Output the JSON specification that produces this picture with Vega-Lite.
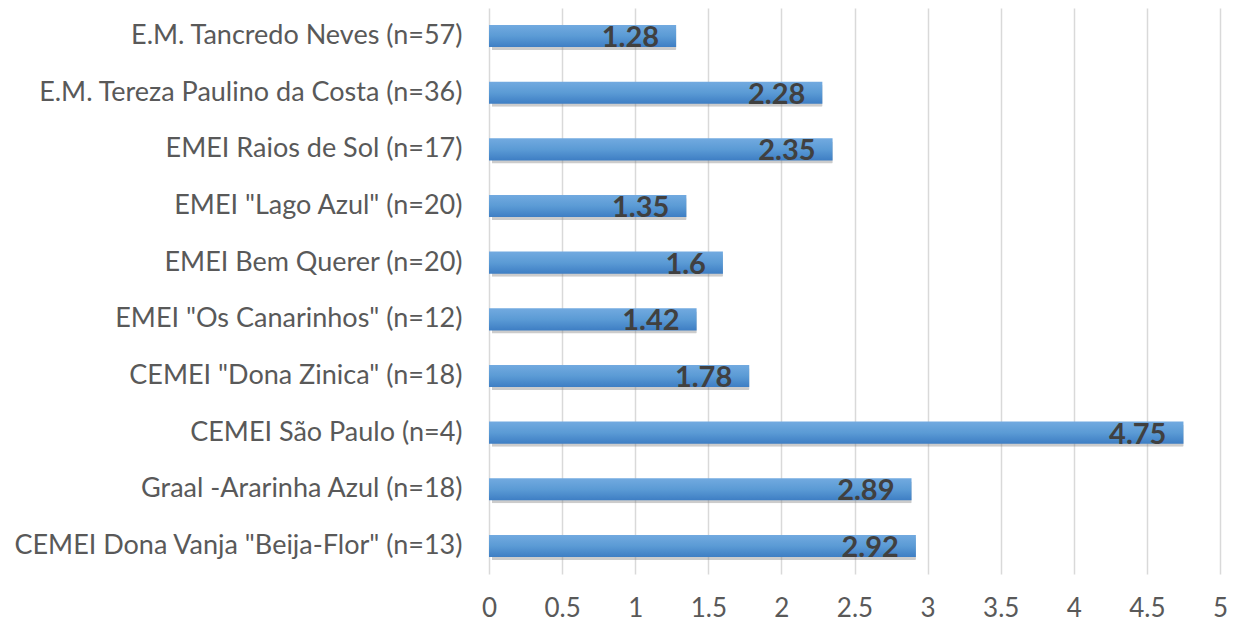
{
  "$schema": "https://vega.github.io/schema/vega-lite/v6.json",
  "width": 731,
  "height": 566,
  "autosize": "none",
  "padding": {"left": 489, "top": 8, "right": 19, "bottom": 50},
  "background": "white",
  "config": {"view": {"stroke": null}, "font": "Lato"},
  "data": {"values": [
    {"school": "E.M. Tancredo Neves (n=57)", "value": 1.28},
    {"school": "E.M. Tereza Paulino da Costa (n=36)", "value": 2.28},
    {"school": "EMEI Raios de Sol (n=17)", "value": 2.35},
    {"school": "EMEI  \"Lago Azul\" (n=20)", "value": 1.35},
    {"school": "EMEI Bem Querer (n=20)", "value": 1.6},
    {"school": "EMEI  \"Os Canarinhos\" (n=12)", "value": 1.42},
    {"school": "CEMEI  \"Dona Zinica\" (n=18)", "value": 1.78},
    {"school": "CEMEI São Paulo (n=4)", "value": 4.75},
    {"school": "Graal -Ararinha Azul (n=18)", "value": 2.89},
    {"school": "CEMEI Dona Vanja \"Beija-Flor\" (n=13)", "value": 2.92}
  ]},
  "encoding": {
    "y": {"field": "school", "type": "nominal", "sort": null,
      "scale": {"paddingInner": 0.61, "paddingOuter": 0.3},
      "axis": {"title": null, "domain": false, "ticks": false, "labelFontSize": 27, "labelColor": "#595959", "labelPadding": 27, "labelLimit": 480}},
    "x": {"field": "value", "type": "quantitative",
      "scale": {"domain": [0, 5], "nice": false},
      "axis": {"title": null, "values": [0, 0.5, 1, 1.5, 2, 2.5, 3, 3.5, 4, 4.5, 5], "format": "~g", "domain": false, "ticks": false, "grid": true, "gridColor": "#d9d9d9", "gridWidth": 1.5, "labelFontSize": 26, "labelColor": "#595959", "labelPadding": 21, "labelFlush": false}}
  },
  "layer": [
    {"mark": {"type": "bar", "color": "#7f7f7f", "opacity": 0.4, "xOffset": 3, "yOffset": 3, "cornerRadius": 1}},
    {"mark": {"type": "bar", "color": {"gradient": "linear", "x1": 0, "y1": 0, "x2": 0, "y2": 1, "stops": [{"offset": 0, "color": "#72aae0"}, {"offset": 0.5, "color": "#5b9bd5"}, {"offset": 1, "color": "#3e7ec4"}]}}},
    {"mark": {"type": "text", "align": "right", "baseline": "middle", "dx": -17, "dy": 2, "fontSize": 29, "fontWeight": "bold", "color": "#404040"},
     "encoding": {"text": {"field": "value", "type": "quantitative"}}}
  ]
}
